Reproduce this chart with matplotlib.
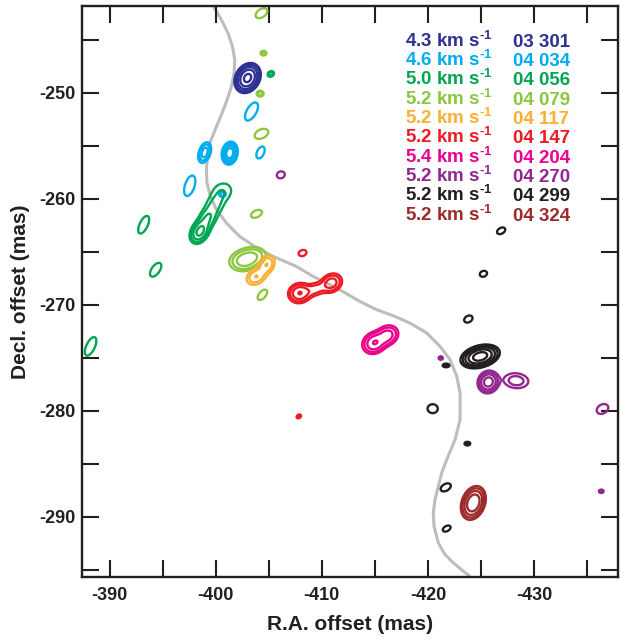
import numpy as np
import matplotlib
matplotlib.use('Agg')
import matplotlib.pyplot as plt
from matplotlib.ticker import MultipleLocator

plt.rcParams['font.family'] = ['Liberation Sans', 'DejaVu Sans']
plt.rcParams['axes.unicode_minus'] = False
plt.rcParams['mathtext.fontset'] = 'custom'
plt.rcParams['mathtext.rm'] = 'Liberation Sans:bold'
plt.rcParams['mathtext.bf'] = 'Liberation Sans:bold'

# legend: velocity and epoch (year, day) of each map
velocities = ['4.3', '4.6', '5.0', '5.2', '5.2', '5.2', '5.4', '5.2', '5.2', '5.2']
epochs = ['03 301', '04 034', '04 056', '04 079', '04 117',
          '04 147', '04 204', '04 270', '04 299', '04 324']
colors = ['#2e3192', '#00aeef', '#00a651', '#8dc63f', '#fbb034',
          '#ed1c24', '#ec008c', '#92278f', '#231f20', '#9e2a2b']

# maser spots: RA, Dec (mas), peak (x lowest contour), outer half axes (mas), PA (deg)
spots_03301 = [(-403.0, -248.6, 20, 1.5, 1.15, 60)]
spots_04034 = [(-403.37, -251.76, 1.6, 0.95, 0.45, 60),
               (-398.96, -255.63, 6, 1.0, 0.55, 72),
               (-401.32, -255.69, 30, 1.1, 0.75, 80),
               (-404.22, -255.63, 1.6, 0.6, 0.33, 65),
               (-397.55, -258.77, 1.6, 1.0, 0.45, 72),
               (-400.63, -259.55, 3, 0.32, 0.28, 0)]
spots_04056 = [(-405.19, -248.21, 3, 0.32, 0.25, 30),
               (-400.65, -259.3, 1.8, 0.8, 0.7, 30),
               (-399.9, -260.6, 2.5, 1.0, 0.7, 60),
               (-399.2, -261.9, 4, 1.1, 0.75, 60),
               (-398.5, -263.1, 10, 1.25, 0.85, 60),
               (-393.21, -262.45, 1.6, 0.9, 0.38, 65),
               (-394.34, -266.70, 1.6, 0.75, 0.38, 55),
               (-388.21, -273.93, 1.6, 0.95, 0.4, 65)]
spots_04079 = [(-404.31, -242.48, 1.6, 0.62, 0.38, 35),
               (-404.5, -246.25, 3, 0.28, 0.22, 0),
               (-404.18, -250.07, 3, 0.33, 0.28, 0),
               (-404.31, -253.87, 1.6, 0.68, 0.42, 25),
               (-403.84, -261.42, 1.6, 0.55, 0.32, 25),
               (-403.1, -265.6, 6, 1.65, 1.0, 15),
               (-402.5, -266.0, 2, 0.8, 0.6, 0),
               (-404.4, -269.06, 1.6, 0.58, 0.32, 50)]
spots_04117 = [(-404.8, -266.2, 4, 0.9, 0.7, 60),
               (-403.8, -267.35, 4, 0.95, 0.7, 30)]
spots_04147 = [(-408.18, -265.12, 1.8, 0.38, 0.28, 20),
               (-407.9, -268.9, 8, 1.1, 0.95, 15),
               (-409.34, -268.55, 3, 1.0, 0.55, 18),
               (-410.9, -267.95, 6, 1.05, 0.85, 30),
               (-407.83, -280.54, 3, 0.22, 0.16, 30)]
spots_04204 = [(-414.95, -273.6, 8, 1.2, 1.0, 30),
               (-416.15, -272.9, 6, 1.1, 0.9, 30)]
spots_04270 = [(-406.13, -257.74, 1.8, 0.38, 0.32, 20),
               (-421.2, -275.03, 3, 0.2, 0.16, 0),
               (-425.69, -277.29, 12, 1.1, 1.0, 60),
               (-428.3, -277.17, 3, 1.15, 0.7, -5),
               (-436.44, -279.84, 1.6, 0.58, 0.42, 30),
               (-436.32, -287.61, 3, 0.22, 0.16, 0)]
spots_04299 = [(-426.89, -263.02, 1.6, 0.42, 0.27, 30),
               (-425.22, -267.08, 1.8, 0.35, 0.27, 20),
               (-423.8, -271.35, 1.6, 0.42, 0.3, 30),
               (-424.91, -274.88, 24, 1.9, 1.05, 15),
               (-421.70, -275.73, 3, 0.32, 0.17, 0),
               (-420.44, -279.81, 1.6, 0.48, 0.42, 0),
               (-423.71, -283.11, 3, 0.27, 0.17, 0),
               (-421.67, -287.24, 1.6, 0.52, 0.32, 30),
               (-421.76, -291.13, 1.8, 0.4, 0.24, 30)]
spots_04324 = [(-424.27, -288.71, 16, 1.65, 1.1, 70)]

all_spots = [spots_03301, spots_04034, spots_04056, spots_04079, spots_04117,
             spots_04147, spots_04204, spots_04270, spots_04299, spots_04324]

# grey model curve
curve_ra = [-399.75, -400.54, -401.16, -401.58, -401.79, -401.73, -401.48, -401.07,
            -400.59, -400.07, -399.43, -399.22, -399.12, -399.18, -399.50, -400.07,
            -401.01, -402.26, -403.68, -405.41, -407.61, -409.18, -411.39, -413.58,
            -415.16, -416.73, -418.30, -419.88, -421.13, -422.08, -422.71, -423.02,
            -423.02, -422.55, -421.76, -421.29, -420.97, -420.66, -420.50, -420.57,
            -420.97, -421.60, -422.39, -423.33, -423.96]
curve_dec = [-241.79, -243.11, -244.37, -245.63, -246.89, -248.14, -249.41, -250.66,
             -251.92, -253.18, -254.75, -256.01, -257.26, -258.52, -259.78, -261.04,
             -262.29, -263.56, -264.50, -265.44, -266.39, -267.33, -268.42, -269.69,
             -270.47, -271.04, -271.73, -272.67, -273.93, -275.19, -276.76, -278.33,
             -280.85, -282.74, -284.62, -285.88, -287.14, -288.40, -289.65, -290.92,
             -292.48, -293.58, -294.37, -295.16, -295.63]

xmin, xmax = -387.4, -437.9
ymin, ymax = -295.7, -241.8

ra = np.linspace(xmin, xmax, 1100)
dec = np.linspace(ymin, ymax, 1150)
X, Y = np.meshgrid(ra, dec)


def field(spots):
    z = np.zeros_like(X)
    for ra0, dec0, peak, a, b, pa in spots:
        u = -(X - ra0)
        v = Y - dec0
        t = np.radians(pa)
        up = u * np.cos(t) + v * np.sin(t)
        vp = -u * np.sin(t) + v * np.cos(t)
        s = np.sqrt(2 * np.log(peak))
        z += peak * np.exp(-0.5 * ((up * s / a) ** 2 + (vp * s / b) ** 2))
    return z


fig = plt.figure(figsize=(6.21, 6.39), dpi=100)
ax = fig.add_axes([82 / 621, 1 - 577 / 639, 536 / 621, 571 / 639])

ax.plot(curve_ra, curve_dec, color='#bdbdbd', lw=2.2, zorder=1,
        solid_joinstyle='round', solid_capstyle='butt')

levels = [1, 2, 4, 8, 16, 32, 64]
for spots, col in zip(all_spots, colors):
    ax.contour(X, Y, field(spots), levels=levels, colors=col, linewidths=1.7, zorder=2)

ax.set_xlim(xmin, xmax)
ax.set_ylim(ymin, ymax)
ax.xaxis.set_major_locator(MultipleLocator(10))
ax.xaxis.set_minor_locator(MultipleLocator(5))
ax.yaxis.set_major_locator(MultipleLocator(10))
ax.yaxis.set_minor_locator(MultipleLocator(5))
ax.tick_params(which='both', direction='in', length=12, width=1.5, color='#231f20',
               top=True, right=True, labelsize=13, labelcolor='#231f20')
ax.tick_params(axis='x', pad=7)
ax.tick_params(axis='y', pad=5)
for lab in ax.get_xticklabels() + ax.get_yticklabels():
    lab.set_fontweight('bold')
for sp in ax.spines.values():
    sp.set_linewidth(1.7)
    sp.set_color('#231f20')

ax.set_xlabel('R.A. offset (mas)', fontsize=15, fontweight='bold', color='#231f20', labelpad=8)
ax.set_ylabel('Decl. offset (mas)', fontsize=15, fontweight='bold', color='#231f20', labelpad=6)

for i in range(len(velocities)):
    yy = 1 - (46.7 + i * 19.33) / 639
    fig.text(405 / 621, yy, velocities[i] + ' km s$^{\u2010 1}$', color=colors[i],
             fontsize=13.5, fontweight='bold', va='baseline')
    fig.text(513 / 621, yy, epochs[i], color=colors[i],
             fontsize=13.5, fontweight='bold', va='baseline')

fig.savefig('out.png', dpi=100)
